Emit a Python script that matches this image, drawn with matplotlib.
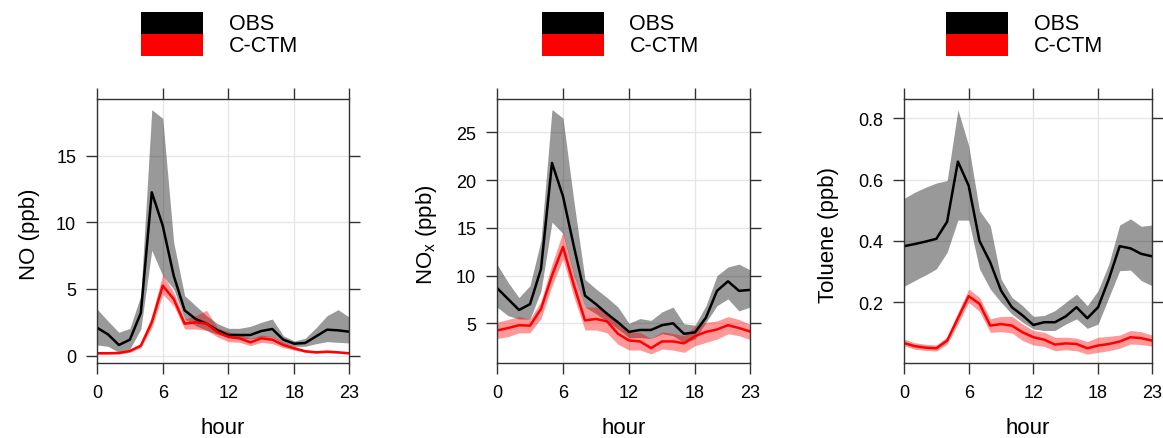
import matplotlib
matplotlib.use('Agg')
import matplotlib.pyplot as plt
from matplotlib.patches import Rectangle

plt.rcParams['font.family'] = ['Liberation Sans', 'DejaVu Sans']
plt.rcParams['mathtext.default'] = 'regular'

hours = list(range(24))

# NO
no_obs = [2.1, 1.6, 0.8, 1.2, 3.2, 12.25, 9.75, 6.0, 3.4, 2.75, 2.4, 1.9, 1.55, 1.55, 1.55, 1.85, 2.0, 1.2, 0.9, 0.95, 1.45, 1.95, 1.9, 1.8]
no_obs_hi = [3.5, 2.6, 1.75, 2.05, 4.5, 18.45, 17.8, 8.5, 4.5, 3.75, 3.0, 2.4, 2.05, 2.05, 2.2, 2.5, 2.75, 1.5, 1.1, 1.3, 2.1, 3.0, 3.45, 2.9]
no_obs_lo = [0.8, 0.7, 0.25, 0.5, 2.0, 7.9, 6.0, 5.0, 2.75, 2.25, 1.9, 1.6, 1.4, 1.3, 1.25, 1.4, 1.4, 0.9, 0.7, 0.7, 0.9, 1.05, 1.0, 0.95]
no_mod = [0.18, 0.18, 0.2, 0.35, 0.75, 2.5, 5.25, 4.25, 2.4, 2.5, 2.4, 1.75, 1.4, 1.3, 1.0, 1.3, 1.2, 0.8, 0.55, 0.33, 0.25, 0.3, 0.25, 0.18]
no_mod_hi = [0.25, 0.25, 0.28, 0.45, 0.9, 3.0, 6.1, 4.75, 2.75, 3.0, 3.4, 2.1, 1.8, 1.6, 1.3, 1.55, 1.45, 1.0, 0.7, 0.42, 0.33, 0.38, 0.32, 0.25]
no_mod_lo = [0.12, 0.12, 0.13, 0.25, 0.6, 2.1, 4.6, 3.75, 2.0, 2.0, 1.9, 1.4, 1.05, 1.0, 0.75, 1.0, 0.9, 0.6, 0.42, 0.25, 0.18, 0.22, 0.18, 0.12]

# NOx
nox_obs = [8.7, 7.55, 6.4, 7.0, 10.7, 21.8, 18.3, 13.0, 7.9, 7.0, 6.0, 5.1, 4.1, 4.3, 4.3, 4.8, 5.0, 3.9, 4.05, 5.6, 8.4, 9.4, 8.4, 8.5]
nox_obs_hi = [11.2, 9.3, 7.7, 8.95, 13.7, 27.4, 26.5, 17.7, 9.6, 8.6, 7.7, 6.7, 5.0, 5.5, 5.3, 6.2, 6.7, 4.95, 4.8, 6.85, 10.0, 10.9, 11.2, 10.6]
nox_obs_lo = [6.7, 5.8, 5.45, 5.45, 8.4, 15.6, 14.4, 10.0, 6.7, 6.0, 5.2, 4.4, 3.5, 3.5, 3.4, 3.9, 3.7, 2.95, 3.35, 5.1, 6.85, 7.55, 6.3, 6.7]
nox_mod = [4.25, 4.5, 4.8, 4.75, 6.5, 10.0, 13.0, 8.95, 5.3, 5.45, 5.2, 3.9, 3.2, 3.1, 2.4, 3.1, 3.1, 2.9, 3.65, 4.1, 4.35, 4.8, 4.5, 4.15]
nox_mod_hi = [5.1, 5.4, 5.7, 5.45, 7.3, 11.2, 14.6, 10.2, 6.7, 6.7, 6.2, 4.9, 4.05, 4.05, 3.4, 4.1, 3.95, 3.7, 4.7, 5.1, 5.25, 5.7, 5.4, 4.9]
nox_mod_lo = [3.4, 3.6, 4.0, 4.0, 5.5, 8.95, 11.75, 7.7, 4.3, 4.3, 4.0, 2.8, 2.2, 2.2, 1.8, 2.3, 2.2, 1.95, 2.65, 3.0, 3.35, 3.9, 3.7, 3.3]

# Toluene
tol_obs = [0.383, 0.39, 0.398, 0.407, 0.463, 0.659, 0.58, 0.40, 0.33, 0.238, 0.184, 0.157, 0.126, 0.135, 0.135, 0.154, 0.184, 0.148, 0.184, 0.276, 0.383, 0.376, 0.358, 0.35]
tol_obs_hi = [0.539, 0.559, 0.575, 0.589, 0.597, 0.828, 0.711, 0.499, 0.45, 0.276, 0.216, 0.189, 0.154, 0.157, 0.173, 0.2, 0.227, 0.189, 0.238, 0.325, 0.452, 0.472, 0.448, 0.452]
tol_obs_lo = [0.252, 0.271, 0.289, 0.309, 0.363, 0.468, 0.468, 0.309, 0.243, 0.2, 0.162, 0.135, 0.113, 0.108, 0.108, 0.129, 0.146, 0.115, 0.129, 0.216, 0.303, 0.305, 0.271, 0.254]
tol_mod = [0.067, 0.057, 0.052, 0.05, 0.075, 0.148, 0.22, 0.195, 0.124, 0.129, 0.124, 0.102, 0.086, 0.078, 0.062, 0.066, 0.064, 0.05, 0.059, 0.064, 0.072, 0.086, 0.083, 0.075]
tol_mod_hi = [0.08, 0.068, 0.063, 0.061, 0.087, 0.167, 0.243, 0.216, 0.146, 0.154, 0.154, 0.129, 0.108, 0.102, 0.086, 0.086, 0.083, 0.072, 0.086, 0.089, 0.093, 0.108, 0.104, 0.093]
tol_mod_lo = [0.059, 0.047, 0.043, 0.041, 0.064, 0.129, 0.2, 0.17, 0.102, 0.104, 0.1, 0.075, 0.061, 0.056, 0.042, 0.045, 0.042, 0.031, 0.037, 0.042, 0.05, 0.064, 0.062, 0.057]

panels = [
    dict(obs=(no_obs, no_obs_lo, no_obs_hi), mod=(no_mod, no_mod_lo, no_mod_hi),
         ylabel='NO (ppb)', ylim=(-0.55, 19.25), yticks=[0, 5, 10, 15], ytl=['0', '5', '10', '15'],
         left=97, right=349, ylab_x=-0.266),
    dict(obs=(nox_obs, nox_obs_lo, nox_obs_hi), mod=(nox_mod, nox_mod_lo, nox_mod_hi),
         ylabel='NO$_x$ (ppb)', ylim=(0.84, 28.5), yticks=[5, 10, 15, 20, 25], ytl=['5', '10', '15', '20', '25'],
         left=497, right=750, ylab_x=-0.28),
    dict(obs=(tol_obs, tol_obs_lo, tol_obs_hi), mod=(tol_mod, tol_mod_lo, tol_mod_hi),
         ylabel='Toluene (ppb)', ylim=(0.002, 0.863), yticks=[0.2, 0.4, 0.6, 0.8], ytl=['0.2', '0.4', '0.6', '0.8'],
         left=904, right=1152, ylab_x=-0.306),
]

W, H = 1163, 439
fig = plt.figure(figsize=(W / 100, H / 100), dpi=100)
top, bottom = 100, 364
frame_col = '#333333'

for p in panels:
    ax = fig.add_axes([p['left'] / W, 1 - bottom / H, (p['right'] - p['left']) / W, (bottom - top) / H])
    ax.grid(True, color='#e6e6e6', lw=1)
    ax.set_axisbelow(True)

    ax.fill_between(hours, p['obs'][1], p['obs'][2], color='black', alpha=0.4, lw=0)
    ax.fill_between(hours, p['mod'][1], p['mod'][2], color='red', alpha=0.4, lw=0)
    ax.plot(hours, p['obs'][0], color='black', lw=1.8)
    ax.plot(hours, p['mod'][0], color='red', lw=1.8)

    ax.set_xlim(0, 23)
    ax.set_ylim(*p['ylim'])
    ax.set_xticks([0, 6, 12, 18, 23])
    ax.set_yticks(p['yticks'])
    ax.set_yticklabels(p['ytl'])
    ax.tick_params(direction='out', length=8, width=1, color=frame_col, pad=7,
                   labelsize=13, top=True, right=True)
    for s in ax.spines.values():
        s.set_color(frame_col)
        s.set_linewidth(1)

    ax.set_xlabel('hour', fontsize=16, va='center')
    ax.xaxis.set_label_coords(0.5, -0.246)
    ax.set_ylabel(p['ylabel'], fontsize=16, va='center')
    ax.yaxis.set_label_coords(p['ylab_x'], 0.49)

    # legend on top of each panel
    cx = (p['left'] + p['right']) / 2
    x0 = cx - 82
    fig.add_artist(Rectangle((x0 / W, 1 - 35 / H), 62 / W, 22 / H, transform=fig.transFigure,
                             facecolor='black', edgecolor='none'))
    fig.add_artist(Rectangle((x0 / W, 1 - 57 / H), 62 / W, 22 / H, transform=fig.transFigure,
                             facecolor='red', edgecolor='none'))
    fig.text((cx + 6) / W, 1 - 24 / H, 'OBS', fontsize=15.5, va='center', ha='left')
    fig.text((cx + 6) / W, 1 - 46 / H, 'C-CTM', fontsize=15.5, va='center', ha='left')

plt.savefig('out.png', dpi=100)
